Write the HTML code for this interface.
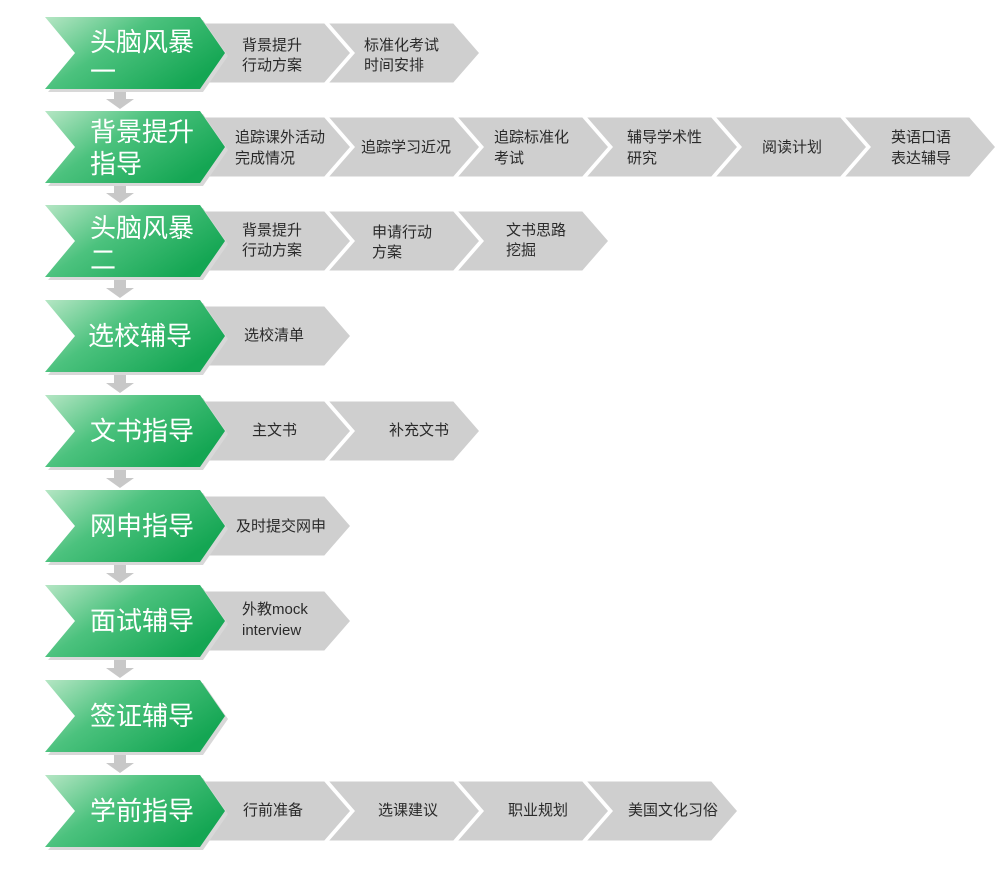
<!DOCTYPE html>
<html><head><meta charset="utf-8"><style>
body{margin:0;background:#fff;}
svg{display:block;}
.g{font-family:"Liberation Sans","Noto Sans CJK SC",sans-serif;font-size:26px;fill:#fff;}
.t{font-family:"Liberation Sans","Noto Sans CJK SC",sans-serif;font-size:15px;fill:#2a2a2a;}
</style></head><body>
<svg width="1006" height="879" viewBox="0 0 1006 879" xmlns="http://www.w3.org/2000/svg">
<defs>
<linearGradient id="gg" x1="0" y1="0" x2="1" y2="0.6">
<stop offset="0" stop-color="#b5e6c4"/><stop offset="0.45" stop-color="#4cc27e"/><stop offset="1" stop-color="#14a653"/>
</linearGradient>
<symbol id="G" overflow="visible"><polygon points="48,3 203,3 228,39 203,75 48,75 78,39" fill="#d8d8d8"/><polygon points="45,0 200,0 225,36 200,72 45,72 75,36" fill="url(#gg)"/></symbol>
<symbol id="C" overflow="visible"><polygon points="0,5 128,5 155,36 128,67 0,67 27,36" fill="#cfcfcf" stroke="#fff" stroke-width="3"/></symbol>
<symbol id="A" overflow="visible"><polygon points="114,0 126,0 126,8 134,8 120,18 106,8 114,8" fill="#c8c8c8"/></symbol>
</defs>

<use href="#A" x="0" y="91"/><use href="#A" x="0" y="185"/><use href="#A" x="0" y="280"/><use href="#A" x="0" y="375"/><use href="#A" x="0" y="470"/><use href="#A" x="0" y="565"/><use href="#A" x="0" y="660"/><use href="#A" x="0" y="755"/>

<g transform="translate(0,17)">
<use href="#C" x="326"/><use href="#C" x="197"/><use href="#G"/>
<text class="g" x="90" y="34">头脑风暴</text><text class="g" x="90" y="64">一</text>
<text class="t" x="242" y="33">背景提升</text><text class="t" x="242" y="53">行动方案</text>
<text class="t" x="364" y="33">标准化考试</text><text class="t" x="364" y="53">时间安排</text>
</g>
<g transform="translate(0,111)">
<use href="#C" x="842"/><use href="#C" x="713"/><use href="#C" x="584"/><use href="#C" x="455"/><use href="#C" x="326"/><use href="#C" x="197"/><use href="#G"/>
<text class="g" x="90" y="30">背景提升</text><text class="g" x="90" y="62">指导</text>
<text class="t" x="235" y="31">追踪课外活动</text><text class="t" x="235" y="52">完成情况</text>
<text class="t" x="361" y="41">追踪学习近况</text>
<text class="t" x="494" y="31">追踪标准化</text><text class="t" x="494" y="52">考试</text>
<text class="t" x="627" y="31">辅导学术性</text><text class="t" x="627" y="52">研究</text>
<text class="t" x="762" y="41">阅读计划</text>
<text class="t" x="891" y="31">英语口语</text><text class="t" x="891" y="52">表达辅导</text>
</g>
<g transform="translate(0,205)">
<use href="#C" x="455"/><use href="#C" x="326"/><use href="#C" x="197"/><use href="#G"/>
<text class="g" x="90" y="32">头脑风暴</text><text class="g" x="90" y="64">二</text>
<text class="t" x="242" y="30">背景提升</text><text class="t" x="242" y="50">行动方案</text>
<text class="t" x="372" y="32">申请行动</text><text class="t" x="372" y="52">方案</text>
<text class="t" x="506" y="30">文书思路</text><text class="t" x="506" y="50">挖掘</text>
</g>
<g transform="translate(0,300)">
<use href="#C" x="197"/><use href="#G"/>
<text class="g" x="88" y="45">选校辅导</text>
<text class="t" x="244" y="40">选校清单</text>
</g>
<g transform="translate(0,395)">
<use href="#C" x="326"/><use href="#C" x="197"/><use href="#G"/>
<text class="g" x="90" y="45">文书指导</text>
<text class="t" x="252" y="40">主文书</text>
<text class="t" x="389" y="40">补充文书</text>
</g>
<g transform="translate(0,490)">
<use href="#C" x="197"/><use href="#G"/>
<text class="g" x="90" y="45">网申指导</text>
<text class="t" x="236" y="41">及时提交网申</text>
</g>
<g transform="translate(0,585)">
<use href="#C" x="197"/><use href="#G"/>
<text class="g" x="90" y="45">面试辅导</text>
<text class="t" x="242" y="29">外教mock</text><text class="t" x="242" y="50">interview</text>
</g>
<g transform="translate(0,680)">
<use href="#G"/>
<text class="g" x="90" y="45">签证辅导</text>
</g>
<g transform="translate(0,775)">
<use href="#C" x="584"/><use href="#C" x="455"/><use href="#C" x="326"/><use href="#C" x="197"/><use href="#G"/>
<text class="g" x="90" y="45">学前指导</text>
<text class="t" x="243" y="40">行前准备</text>
<text class="t" x="378" y="40">选课建议</text>
<text class="t" x="508" y="40">职业规划</text>
<text class="t" x="628" y="40">美国文化习俗</text>
</g>
</svg>
</body></html>
